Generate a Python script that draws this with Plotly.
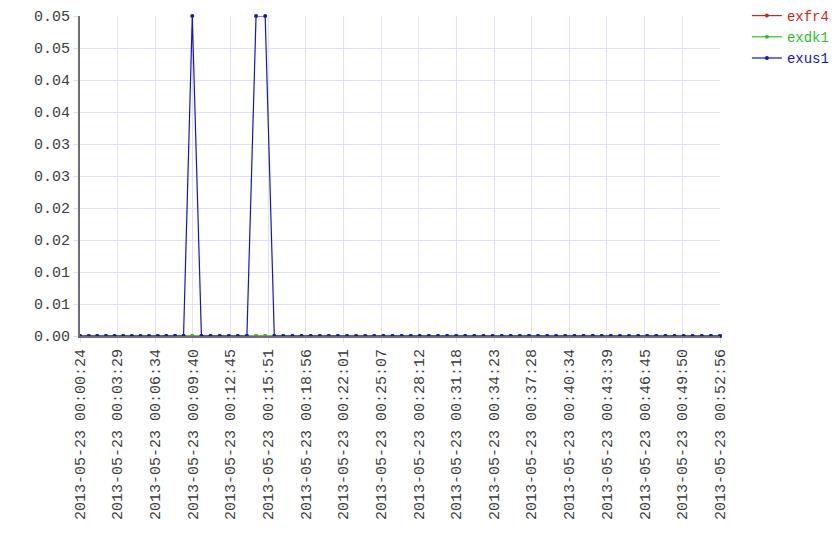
import pandas as pd
import plotly.graph_objects as go

# ---- data ----
start_time = "2013-05-23 00:00:24"
# seconds between consecutive samples
step_seconds = [43, 42, 43, 42, 43, 42, 43, 42, 43, 42, 43, 42, 43] + \
               [45, 45, 45, 45, 44] * 11 + [45, 45, 45]

exus1 = [0, 0, 0, 0, 0, 0, 0, 0, 0, 0, 0, 0, 0, 0.05, 0, 0, 0, 0, 0, 0,
         0.05, 0.05, 0, 0, 0, 0, 0, 0, 0, 0, 0, 0, 0, 0, 0, 0, 0, 0, 0, 0,
         0, 0, 0, 0, 0, 0, 0, 0, 0, 0, 0, 0, 0, 0, 0, 0, 0, 0, 0, 0,
         0, 0, 0, 0, 0, 0, 0, 0, 0, 0, 0, 0]
exfr4 = [0] * 72
exdk1 = [0] * 72

x_tick_labels = [
    "2013-05-23 00:00:24", "2013-05-23 00:03:29", "2013-05-23 00:06:34",
    "2013-05-23 00:09:40", "2013-05-23 00:12:45", "2013-05-23 00:15:51",
    "2013-05-23 00:18:56", "2013-05-23 00:22:01", "2013-05-23 00:25:07",
    "2013-05-23 00:28:12", "2013-05-23 00:31:18", "2013-05-23 00:34:23",
    "2013-05-23 00:37:28", "2013-05-23 00:40:34", "2013-05-23 00:43:39",
    "2013-05-23 00:46:45", "2013-05-23 00:49:50", "2013-05-23 00:52:56",
]
y_tick_values = [0, 0.005, 0.01, 0.015, 0.02, 0.025, 0.03, 0.035, 0.04, 0.045, 0.05]
y_tick_labels = ["0.00", "0.01", "0.01", "0.02", "0.02", "0.03", "0.03",
                 "0.04", "0.04", "0.05", "0.05"]

series_names = ["exfr4", "exdk1", "exus1"]
series_values = [exfr4, exdk1, exus1]
series_colors = ["#d42424", "#2cbf2c", "#1414c8"]

# ---- build ----
times = [pd.Timestamp(start_time)]
for s in step_seconds:
    times.append(times[-1] + pd.Timedelta(seconds=s))

FONT = "Liberation Mono, Courier New, monospace"
TEXT = "#3c3c3c"

fig = go.Figure()
for name, vals, col in zip(series_names, series_values, series_colors):
    fig.add_trace(go.Scatter(
        x=times, y=vals, mode="lines+markers",
        name=f"<span style='color:{col}'>{name}</span>",
        line=dict(color=col, width=1.2),
        marker=dict(color=col, size=4),
        cliponaxis=False,
    ))

grid = "#e0e0fa"
# page body has an 8px margin, so margins are offset to place the plot area
fig.update_layout(
    width=840, height=560,
    margin=dict(l=72, r=128, t=8, b=232, autoexpand=False),
    paper_bgcolor="white", plot_bgcolor="white",
    font=dict(family=FONT, size=15, color=TEXT),
    showlegend=True,
    legend=dict(x=1.042, y=1.05, xanchor="left", yanchor="top",
                font=dict(family=FONT, size=14),
                bgcolor="rgba(0,0,0,0)", tracegroupgap=0, itemwidth=30),
)

fig.update_xaxes(
    automargin=False,
    range=[times[0], times[-1]],
    tickmode="array",
    tickvals=[pd.Timestamp(t) for t in x_tick_labels],
    ticktext=x_tick_labels,
    tickangle=-90,
    showgrid=True, gridcolor=grid, gridwidth=1,
    ticks="outside", ticklen=5, tickcolor=grid,
    showline=True, linecolor="#6e6e78", linewidth=2,
    zeroline=False,
    tickfont=dict(family=FONT, size=15, color=TEXT),
)
fig.update_yaxes(
    automargin=False,
    range=[0, 0.05],
    tickmode="array",
    tickvals=y_tick_values,
    ticktext=y_tick_labels,
    showgrid=True, gridcolor=grid, gridwidth=1,
    ticks="outside", ticklen=5, tickcolor=grid,
    showline=True, linecolor="#6e6e78", linewidth=2,
    zeroline=False,
    tickfont=dict(family=FONT, size=15, color=TEXT),
)

fig.write_html("out.html")
